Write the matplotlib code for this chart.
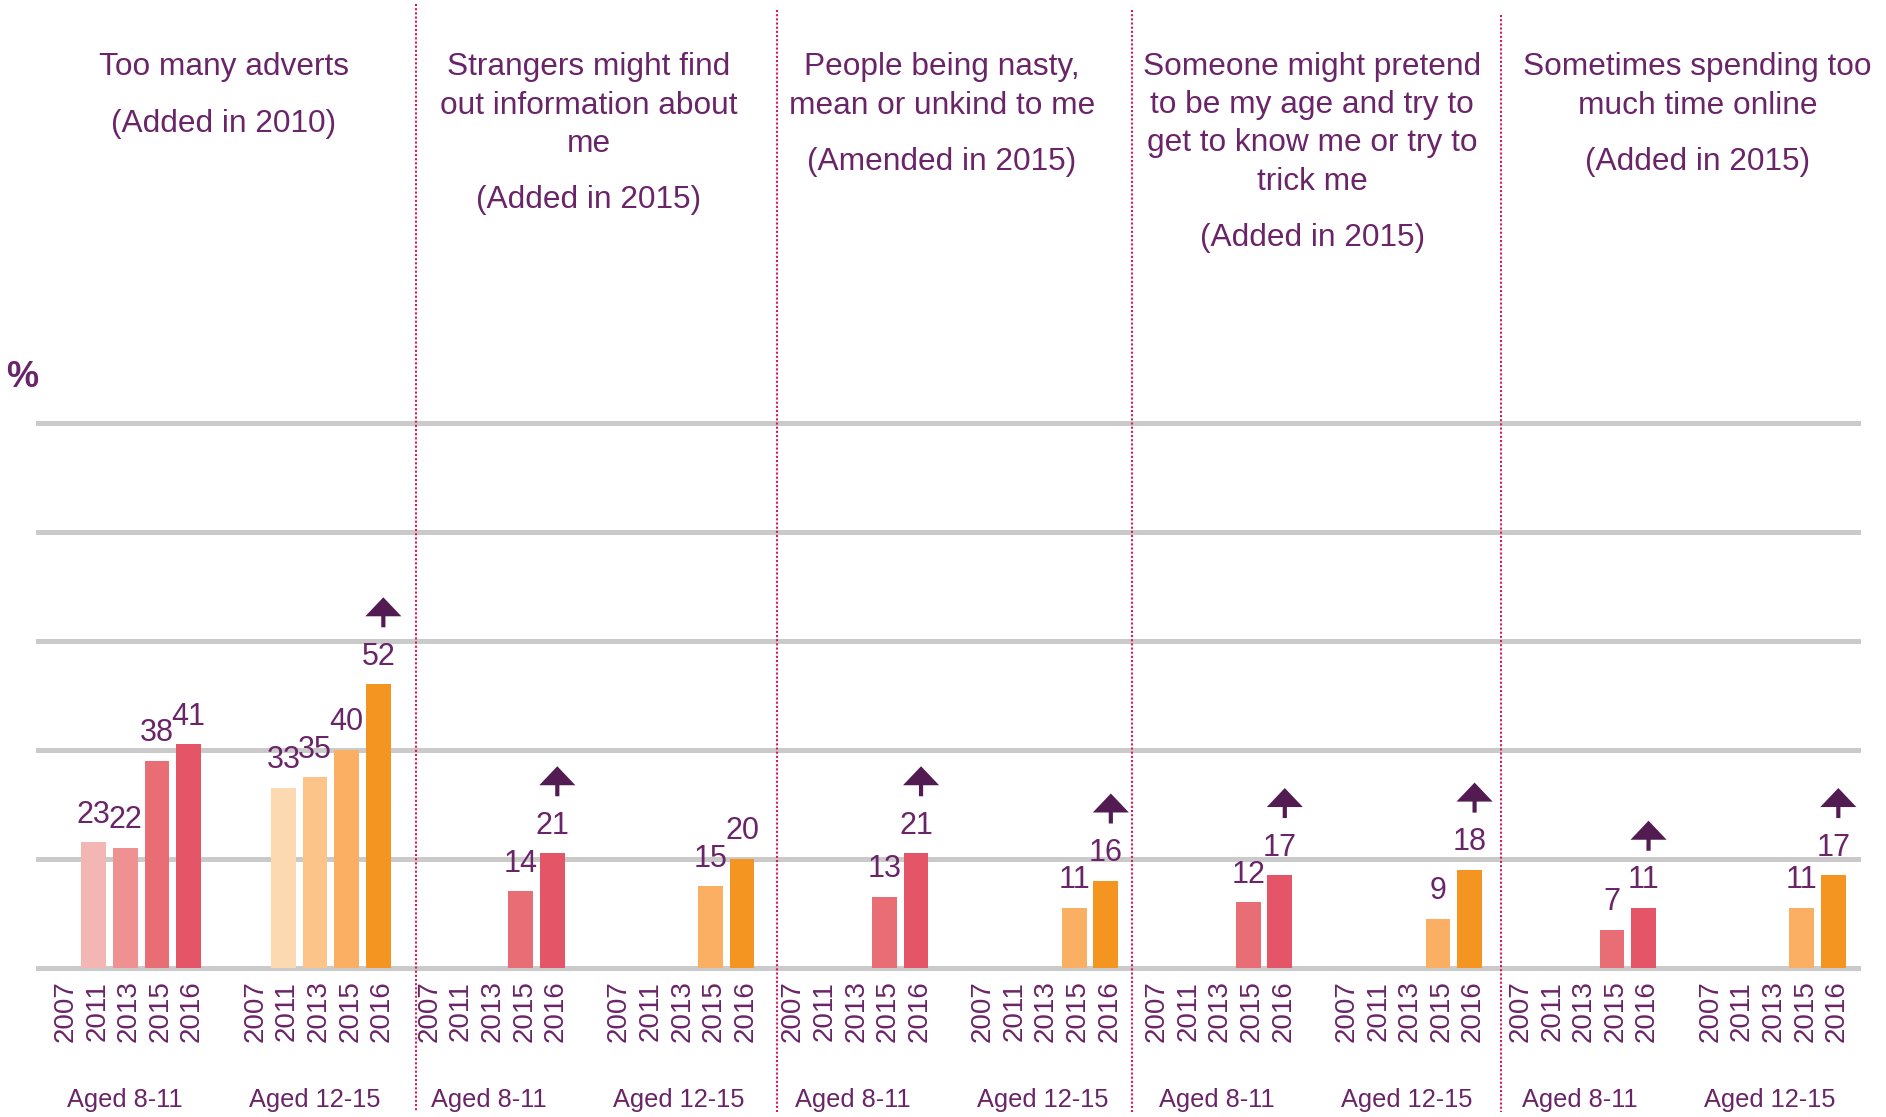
import matplotlib
matplotlib.use('Agg')
import matplotlib.pyplot as plt
from matplotlib import transforms
from matplotlib.lines import Line2D

plt.rcParams['font.family'] = ['Liberation Sans', 'DejaVu Sans']

# ---------------- data ----------------
years = ['2007', '2011', '2013', '2015', '2016']
groups = ['Aged 8-11', 'Aged 12-15']

titles = [
    ["Too many adverts"],
    ["Strangers might find", "out information about", "me"],
    ["People being nasty,", "mean or unkind to me"],
    ["Someone might pretend", "to be my age and try to", "get to know me or try to", "trick me"],
    ["Sometimes spending too", "much time online"],
]
notes = ["(Added in 2010)", "(Added in 2015)", "(Amended in 2015)",
         "(Added in 2015)", "(Added in 2015)"]

# values per year (None = not asked)
adverts_8_11 = [None, 23, 22, 38, 41]
adverts_12_15 = [None, 33, 35, 40, 52]
strangers_8_11 = [None, None, None, 14, 21]
strangers_12_15 = [None, None, None, 15, 20]
nasty_8_11 = [None, None, None, 13, 21]
nasty_12_15 = [None, None, None, 11, 16]
pretend_8_11 = [None, None, None, 12, 17]
pretend_12_15 = [None, None, None, 9, 18]
time_8_11 = [None, None, None, 7, 11]
time_12_15 = [None, None, None, 11, 17]

# significant increase 2015 -> 2016 (arrow over 2016 bar)
arrow_8_11 = [False, True, True, True, True]
arrow_12_15 = [True, False, True, True, True]

panels = [
    (adverts_8_11, adverts_12_15),
    (strangers_8_11, strangers_12_15),
    (nasty_8_11, nasty_12_15),
    (pretend_8_11, pretend_12_15),
    (time_8_11, time_12_15),
]
arrows = list(zip(arrow_8_11, arrow_12_15))

# ---------------- style ----------------
colors = [
    ['#f6c6c4', '#f4b6b4', '#ee9190', '#e96d74', '#e45667'],
    ['#fee6cc', '#fdd9b2', '#fcc489', '#fbaf62', '#f59521'],
]
TXT = '#6a2468'
ARR = '#521b52'
GRID = '#cacaca'
DIV = '#d81b5c'

W, H = 1886, 1117
fig = plt.figure(figsize=(W / 100, H / 100), dpi=100)
fig.patch.set_facecolor('white')

ax = fig.add_axes([38 / W, (H - 967.7) / H, 1820 / W, 545 / H])
ax.set_xlim(-0.76, 56.78)
ax.set_ylim(0, 100)
ax.axis('off')

PANEL_W = 11.5
GROUP_W = 6
title_dx = [5.12, 5.16, 4.81, 5.02, 5.71]
divider_x = [11.19, 22.6, 33.83, 45.5]
divider_top = [4, 10, 10, 15]

def fy(px):
    return (H - px) / H

for v in range(0, 101, 20):
    ax.axhline(v, color=GRID, lw=3.6, zorder=0, clip_on=False)

xdata_yfig = transforms.blended_transform_factory(ax.transData, fig.transFigure)
year_tr = transforms.offset_copy(xdata_yfig, fig=fig, x=3.5, y=0, units='dots')

for p, (pair, arr) in enumerate(zip(panels, arrows)):
    base = p * PANEL_W
    for g, vals in enumerate(pair):
        for i, (yr, v) in enumerate(zip(years, vals)):
            x = base + g * GROUP_W + i
            ax.text(x, fy(1011.5), yr, transform=year_tr, rotation=90,
                    ha='center', va='center', fontsize=20, color=TXT)
            if v is None:
                continue
            ax.bar(x, v, width=0.78, color=colors[g][i], zorder=2)
            ax.annotate(str(v), (x, v), xytext=(0, 14), textcoords='offset points',
                        ha='center', va='baseline', fontsize=22, color=TXT, zorder=4)
        if arr[g]:
            x = base + g * GROUP_W + 4
            v = vals[4]
            tail = transforms.offset_copy(ax.transData, fig=fig, x=5, y=57, units='dots')
            head = transforms.offset_copy(ax.transData, fig=fig, x=5, y=87, units='dots')
            ax.annotate('', xy=(x, v), xycoords=head, xytext=(x, v), textcoords=tail,
                        arrowprops=dict(arrowstyle='-|>,head_length=1.0,head_width=0.95',
                                        mutation_scale=10, lw=3.0, color=ARR,
                                        joinstyle='miter', capstyle='butt',
                                        shrinkA=0, shrinkB=0),
                        annotation_clip=False)
        ax.text(base + g * GROUP_W + 2, fy(1106.7), groups[g], transform=xdata_yfig,
                ha='center', va='baseline', fontsize=18.3, color=TXT)

    # titles
    tx = base + title_dx[p]
    for k, line in enumerate(titles[p]):
        ax.text(tx, fy(75.5 + k * 38), line, transform=xdata_yfig,
                ha='center', va='baseline', fontsize=22.8, color=TXT)
    ax.text(tx, fy(75.5 + (len(titles[p]) - 1) * 38 + 56.5), notes[p],
            transform=xdata_yfig, ha='center', va='baseline', fontsize=22.8, color=TXT)

for dx, top in zip(divider_x, divider_top):
    ln = Line2D([dx, dx], [fy(top), fy(1112)], transform=xdata_yfig, color=DIV,
                lw=1.5, linestyle=(0, (1, 1)), zorder=5, clip_on=False)
    fig.add_artist(ln)

fig.text(6 / W, fy(387), '%', fontsize=26, fontweight='bold', color=TXT,
         ha='left', va='baseline')

fig.savefig('out.png', dpi=100, facecolor='white')
